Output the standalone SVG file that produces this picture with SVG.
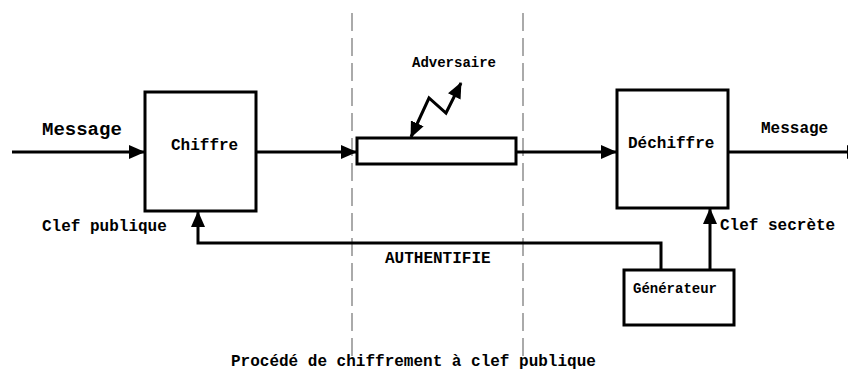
<svg xmlns="http://www.w3.org/2000/svg" width="848" height="376" viewBox="0 0 848 376">
<style>
.box{fill:#fff;stroke:#000;stroke-width:3}
.ln{fill:none;stroke:#000;stroke-width:3}
.dash{fill:none;stroke:#aaa;stroke-width:2;stroke-dasharray:18 7}
text{font-family:"Liberation Mono","Courier New",monospace;font-weight:bold;fill:#000}
.t16{font-size:16px}
.t14{font-size:14px}
.t19{font-size:19px}
</style>
<defs>
<marker id="ah" markerUnits="userSpaceOnUse" markerWidth="16" markerHeight="14" refX="15" refY="7" orient="auto">
<path d="M0,0 L16,7 L0,14 Z" fill="#000"/>
</marker>
<marker id="ahs" markerUnits="userSpaceOnUse" markerWidth="16" markerHeight="14" refX="1" refY="7" orient="auto">
<path d="M16,0 L0,7 L16,14 Z" fill="#000"/>
</marker>
</defs>
<rect width="848" height="376" fill="#fff"/>
<g id="separators">
<line class="dash" x1="352" y1="13" x2="352" y2="362"/>
<line class="dash" x1="523" y1="13" x2="523" y2="362"/>
</g>
<g id="connectors">
<line class="ln" x1="12" y1="152" x2="144" y2="152" marker-end="url(#ah)"/>
<line class="ln" x1="256" y1="152" x2="356" y2="152" marker-end="url(#ah)"/>
<line class="ln" x1="517" y1="152" x2="616" y2="152" marker-end="url(#ah)"/>
<line class="ln" x1="728" y1="152" x2="862" y2="152" marker-end="url(#ah)"/>
<polyline class="ln" points="661,270 661,243 198,243 198,212" marker-end="url(#ah)"/>
<line class="ln" x1="710" y1="270" x2="710" y2="209" marker-end="url(#ah)"/>
<polyline class="ln" points="411,137 429,98 446,113 461,83" marker-start="url(#ahs)" marker-end="url(#ah)"/>
</g>
<g id="chiffre">
<rect class="box" x="145" y="92" width="111" height="119"/>
<text class="t16" x="171" y="150">Chiffre</text>
</g>
<g id="canal">
<rect class="box" x="357" y="138" width="159" height="26"/>
</g>
<g id="dechiffre">
<rect class="box" x="617" y="90" width="111" height="118"/>
<text class="t16" x="628" y="148">Déchiffre</text>
</g>
<g id="generateur">
<rect class="box" x="624" y="270" width="110" height="55"/>
<text class="t14" x="633" y="293">Générateur</text>
</g>
<g id="labels">
<text class="t19" x="42" y="135">Message</text>
<text class="t16" x="761" y="133">Message</text>
<text class="t14" x="412" y="67">Adversaire</text>
<text class="t16" x="42" y="231">Clef publique</text>
<text class="t16" x="720" y="230">Clef secrète</text>
<text class="t16" x="385" y="263">AUTHENTIFIE</text>
<text class="t16" x="231" y="366">Procédé de chiffrement à clef publique</text>
</g>
</svg>
